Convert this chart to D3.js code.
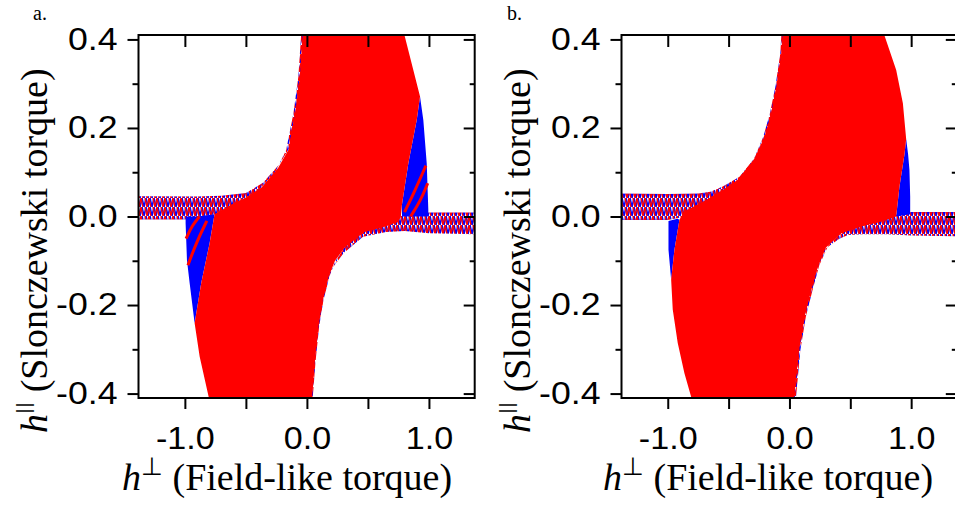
<!DOCTYPE html>
<html><head><meta charset="utf-8">
<script src="https://cdn.jsdelivr.net/npm/d3@7"></script>
<style>
html,body{margin:0;padding:0;background:#fff;}
svg{display:block;}
</style></head>
<body>
<svg id="chart" width="955" height="506"></svg>
<script>
// ---------- data ----------
const xTickValues = [-1, -0.5, 0, 0.5, 1];
const xTickLabels = {"-1": "-1.0", "0": "0.0", "1": "1.0"};
const yMajorTicks = [-0.4, -0.2, 0, 0.2, 0.4];
const yTickLabels = ["-0.4", "-0.2", "0.0", "0.2", "0.4"];
const yMinorTicks = [-0.3, -0.1, 0.1, 0.3];
const panelLabels = ["a.", "b."];
const xTitleMain = "h", xTitleSup = "\u22A5", xTitleRest = "\u00A0(Field-like torque)";
const yTitleMain = "h", yTitleSup = "||", yTitleRest = "\u00A0(Slonczewski torque)";

// panel a
const bandUpperA = [[-1.38,0.046],[-0.9,0.045],[-0.7,0.047],[-0.5,0.053],[-0.36,0.076],[-0.22,0.12],[-0.14,0.157],[-0.085,0.234],[-0.046,0.316],[-0.02,0.42],
  [-0.045,0.42],[-0.07,0.316],[-0.11,0.234],[-0.17,0.15],[-0.26,0.1],[-0.4,0.058],[-0.55,0.035],[-0.75,0.005],[-1.0,-0.007],[-1.38,-0.007]];
const bandLowerA = [[1.38,-0.04],[1.0,-0.038],[0.8,-0.033],[0.65,-0.035],[0.46,-0.046],[0.3,-0.083],[0.2,-0.12],[0.162,-0.143],[0.11,-0.2],[0.08,-0.249],[0.05,-0.33],[0.025,-0.42],
  [0.045,-0.42],[0.07,-0.33],[0.1,-0.249],[0.135,-0.19],[0.185,-0.135],[0.235,-0.1],[0.32,-0.065],[0.48,-0.028],[0.65,-0.012],[0.8,0.005],[1.0,0.009],[1.38,0.009]];
const redRegionA = [[-0.032,0.42],[0.79,0.42],[0.872,0.331],[0.927,0.271],[0.9,0.218],[0.831,0.12],[0.777,0.023],[0.77,0.0],[0.75,-0.012],[0.65,-0.022],[0.47,-0.035],[0.31,-0.07],[0.23,-0.1],[0.18,-0.135],[0.13,-0.19],[0.095,-0.249],[0.065,-0.33],[0.04,-0.42],
  [-0.795,-0.42],[-0.879,-0.316],[-0.92,-0.241],[-0.866,-0.15],[-0.797,-0.06],[-0.757,0.005],[-0.6,0.03],[-0.5,0.043],[-0.37,0.066],[-0.235,0.11],[-0.152,0.15],[-0.097,0.234],[-0.058,0.316]];
const blueLeftA = [[-0.92,-0.241],[-0.961,-0.15],[-0.983,-0.098],[-0.994,-0.015],[-0.994,0.0],[-0.9,0.0],[-0.757,0.005],[-0.797,-0.06],[-0.866,-0.15]];
const blueRightA = [[0.927,0.271],[0.954,0.218],[0.982,0.12],[0.995,0.015],[0.995,0.0],[0.78,0.0],[0.777,0.023],[0.831,0.12],[0.9,0.218]];
const stripesA = [
  [[0.80,0.01],[0.88,0.055],[0.975,0.115]],
  [[0.85,0.0],[0.93,0.035],[0.99,0.075]],
  [[-0.975,-0.11],[-0.9,-0.055],[-0.82,-0.01]],
  [[-0.99,-0.05],[-0.94,-0.02],[-0.88,0.0]]
];

// panel b
const bandUpperB = [[-1.38,0.052],[-1.0,0.051],[-0.75,0.052],[-0.65,0.056],[-0.548,0.068],[-0.41,0.09],[-0.274,0.136],[-0.19,0.18],[-0.137,0.234],[-0.096,0.294],[-0.055,0.369],[-0.04,0.42],
  [-0.065,0.42],[-0.075,0.369],[-0.115,0.294],[-0.16,0.234],[-0.215,0.18],[-0.3,0.125],[-0.44,0.075],[-0.58,0.05],[-0.7,0.03],[-0.85,0.0],[-1.0,-0.008],[-1.38,-0.008]];
const bandLowerB = [[1.38,-0.045],[1.0,-0.043],[0.8,-0.04],[0.6,-0.04],[0.48,-0.042],[0.41,-0.05],[0.274,-0.077],[0.219,-0.113],[0.164,-0.166],[0.11,-0.226],[0.068,-0.301],[0.027,-0.42],
  [0.05,-0.42],[0.09,-0.301],[0.135,-0.226],[0.19,-0.166],[0.245,-0.11],[0.32,-0.065],[0.45,-0.03],[0.6,-0.015],[0.8,0.0],[1.0,0.01],[1.38,0.01]];
const redRegionB = [[-0.055,0.42],[-0.068,0.369],[-0.108,0.294],[-0.15,0.234],[-0.205,0.18],[-0.29,0.13],[-0.43,0.082],[-0.56,0.058],[-0.7,0.035],[-0.863,0.012],[-0.904,-0.0075],[-0.945,-0.075],[-0.972,-0.143],[-0.959,-0.21],[-0.918,-0.286],[-0.863,-0.354],[-0.808,-0.407],[-0.8,-0.42],
  [0.035,-0.42],[0.06,-0.35],[0.08,-0.301],[0.125,-0.226],[0.18,-0.166],[0.235,-0.113],[0.3,-0.07],[0.43,-0.037],[0.6,-0.022],[0.75,-0.012],[0.877,0.0],[0.904,0.068],[0.945,0.14],[0.959,0.175],[0.932,0.256],[0.877,0.331],[0.767,0.42]];
const blueLeftB = [[-0.972,-0.143],[-0.994,-0.075],[-0.994,-0.01],[-0.92,-0.005],[-0.904,-0.0075],[-0.945,-0.075]];
const blueRightB = [[0.959,0.175],[0.975,0.14],[0.986,0.105],[0.992,0.045],[0.992,0.005],[0.877,0.0],[0.904,0.068],[0.945,0.14]];
const stripesB = [];

const xDomain = [-1.38, 1.375];
const yDomain = [-0.41, 0.41];

// ---------- drawing ----------
const svg = d3.select("#chart");
const RED = "#ff0000", BLUE = "#0000ff";
const SANS = "Arial, 'Liberation Sans', sans-serif";
const SERIF = "'Liberation Serif', 'Times New Roman', serif";

const defs = svg.append("defs");
const pat = defs.append("pattern").attr("id", "zig").attr("patternUnits", "userSpaceOnUse")
  .attr("width", 8).attr("height", 9);
pat.append("rect").attr("width", 8).attr("height", 9).attr("fill", "#fff");
pat.append("path").attr("d", "M0,9 L2,0 L4,9 L6,0 L8,9").attr("stroke", BLUE).attr("stroke-width", 1.6).attr("fill", "none");
pat.append("path").attr("d", "M1,0 L3,9 L5,0 L7,9").attr("stroke", RED).attr("stroke-width", 1.4).attr("fill", "none");

const panels = [
  {label: panelLabels[0], xr: [138.5, 474.7], yr: [398, 35], labelXY: [33, 20],
   band: [bandUpperA, bandLowerA], red: redRegionA, blue: [blueLeftA, blueRightA], stripes: stripesA,
   xTitleX: 122, yTitleX: 47},
  {label: panelLabels[1], xr: [621.5, 956.8], yr: [398, 35], labelXY: [507, 20],
   band: [bandUpperB, bandLowerB], red: redRegionB, blue: [blueLeftB, blueRightB], stripes: stripesB,
   xTitleX: 603, yTitleX: 530}
];

function stretch(sel, f) {
  sel.each(function() {
    const t = d3.select(this);
    const w = this.getComputedTextLength();
    if (w > 0) t.attr("textLength", w * f).attr("lengthAdjust", "spacingAndGlyphs");
  });
}

panels.forEach((p, i) => {
  const x = d3.scaleLinear().domain(xDomain).range(p.xr);
  const y = d3.scaleLinear().domain(yDomain).range(p.yr);
  const g = svg.append("g");
  const clipId = "clip" + i;
  defs.append("clipPath").attr("id", clipId).append("rect")
    .attr("x", p.xr[0]).attr("y", p.yr[1]).attr("width", p.xr[1] - p.xr[0]).attr("height", p.yr[0] - p.yr[1]);
  const plot = g.append("g").attr("clip-path", `url(#${clipId})`);
  const poly = d3.line().x(d => x(d[0])).y(d => y(d[1]));
  const closed = pts => poly(pts) + "Z";

  plot.selectAll(".band").data(p.band).join("path").attr("class", "band")
    .attr("d", closed).attr("fill", "url(#zig)");
  plot.selectAll(".blue").data(p.blue).join("path").attr("class", "blue")
    .attr("d", closed).attr("fill", BLUE);
  plot.selectAll(".stripe").data(p.stripes).join("path").attr("class", "stripe")
    .attr("d", d3.line().curve(d3.curveBasis).x(d => x(d[0])).y(d => y(d[1])))
    .attr("fill", "none").attr("stroke", RED).attr("stroke-width", 3);
  plot.append("path").attr("d", closed(p.red)).attr("fill", RED);

  const styleAxis = sel => {
    sel.select(".domain").remove();
    sel.selectAll(".tick line").attr("stroke", "#000").attr("stroke-width", 2);
    sel.selectAll("text").attr("font-family", SANS).attr("font-size", 31).attr("fill", "#000");
  };
  // left major
  g.append("g").attr("transform", `translate(${p.xr[0]},0)`)
    .call(d3.axisLeft(y).tickValues(yMajorTicks).tickSize(11).tickPadding(10)
      .tickFormat((d, k) => yTickLabels[k]))
    .call(styleAxis)
    .call(s => stretch(s.selectAll("text"), 1.15));
  g.append("g").attr("transform", `translate(${p.xr[0]},0)`)
    .call(d3.axisLeft(y).tickValues(yMinorTicks).tickSize(6).tickFormat(""))
    .call(styleAxis);
  // right (inward)
  g.append("g").attr("transform", `translate(${p.xr[1]},0)`)
    .call(d3.axisLeft(y).tickValues(yMajorTicks).tickSize(11).tickFormat(""))
    .call(styleAxis);
  g.append("g").attr("transform", `translate(${p.xr[1]},0)`)
    .call(d3.axisLeft(y).tickValues(yMinorTicks).tickSize(5).tickFormat(""))
    .call(styleAxis);
  // top (inward)
  g.append("g").attr("transform", `translate(0,${p.yr[1]})`)
    .call(d3.axisBottom(x).tickValues(xTickValues).tickSize(12).tickFormat(""))
    .call(styleAxis);
  // bottom
  g.append("g").attr("transform", `translate(0,${p.yr[0]})`)
    .call(d3.axisBottom(x).tickValues(xTickValues).tickSize(11).tickPadding(18)
      .tickFormat(d => xTickLabels[String(d)] || ""))
    .call(styleAxis)
    .call(s => stretch(s.selectAll("text"), 1.1));

  // frame
  g.append("rect").attr("x", p.xr[0]).attr("y", p.yr[1])
    .attr("width", p.xr[1] - p.xr[0]).attr("height", p.yr[0] - p.yr[1])
    .attr("fill", "none").attr("stroke", "#000").attr("stroke-width", 2);

  // panel label
  g.append("text").attr("x", p.labelXY[0]).attr("y", p.labelXY[1])
    .attr("font-family", SERIF).attr("font-size", 20).text(p.label);

  // x title
  const xt = g.append("text").attr("x", p.xTitleX).attr("y", 490)
    .attr("font-family", SERIF).attr("font-size", 38).attr("fill", "#000");
  xt.append("tspan").attr("font-style", "italic").text(xTitleMain);
  xt.append("tspan").attr("font-size", 25).attr("dy", -15).text(xTitleSup);
  xt.append("tspan").attr("dy", 15).text(xTitleRest);

  // y title
  const yt = g.append("text").attr("transform", `translate(${p.yTitleX},433) rotate(-90)`)
    .attr("font-family", SERIF).attr("font-size", 38).attr("fill", "#000");
  yt.append("tspan").attr("font-style", "italic").text(yTitleMain);
  yt.append("tspan").attr("font-size", 18).attr("dy", -17).attr("font-family", "'DejaVu Sans', sans-serif").text(yTitleSup);
  yt.append("tspan").attr("dy", 17).text(yTitleRest);
});
</script>
</body></html>
